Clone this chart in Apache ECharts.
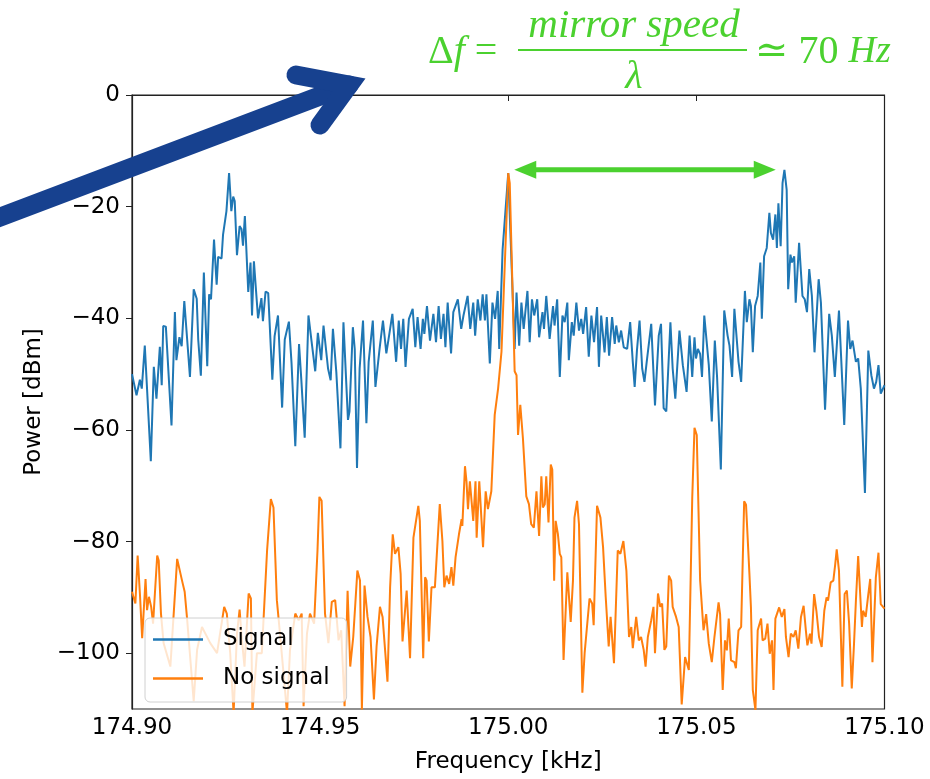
<!DOCTYPE html>
<html>
<head>
<meta charset="utf-8">
<script src="https://cdn.jsdelivr.net/npm/echarts@6/dist/echarts.min.js"></script>
<style>
html, body { margin: 0; padding: 0; background: #fff; }
#main { width: 930px; height: 779px; }
</style>
</head>
<body>
<div id="main"></div>
<script>
// frequency offsets are in Hz above F0 (kHz)
var F0 = 174.9;
var xTicks = [174.90, 174.95, 175.00, 175.05, 175.10];
var yTicks = [0, -20, -40, -60, -80, -100];

var sigHz = [0,1.2,2.1,2.6,3.4,5.0,5.8,6.5,7.4,7.9,8.3,9.0,10.5,11.4,11.8,12.6,13.2,13.9,15.4,16.4,17.2,17.6,18.3,19.1,20.0,20.5,21.0,21.8,22.5,22.9,23.8,24.2,25.1,25.8,26.4,26.9,27.3,27.9,28.6,29.1,29.5,30.0,30.9,31.5,31.9,32.4,33.5,34.4,34.8,35.5,36.2,37.3,37.9,38.8,39.9,40.6,41.7,42.4,43.4,44.4,45.0,45.9,46.9,47.7,48.7,49.4,
  50.3,50.9,52.1,52.8,53.4,54.3,55.4,56.2,57.4,57.8,58.7,59.2,59.8,60.5,61.4,62.3,62.9,64.0,64.7,65.8,66.7,67.6,68.4,69.2,70.2,70.9,71.5,72.1,72.7,73.6,74.6,75.3,75.9,76.7,77.3,77.7,78.4,79.2,80.1,80.8,81.5,82.1,82.8,83.3,83.9,84.8,85.4,86.6,87.5,88.1,89.2,89.9,90.7,91.2,91.9,92.6,93.2,93.8,94.2,95.1,95.8,96.5,97.2,97.6,98.5,100,
  101.7,102.2,102.9,103.5,104.1,105.1,105.7,106.3,106.9,107.7,108.2,109.1,109.5,110.1,111.0,111.9,112.3,113.0,113.7,114.4,115.0,115.7,116.1,116.9,117.4,118.1,118.8,119.4,119.9,120.7,121.4,122.1,122.8,123.6,124.1,124.7,125.6,126.2,126.8,127.6,128.3,128.7,129.4,130.0,130.7,131.6,132.4,133.1,133.6,134.2,134.9,135.6,136.2,136.8,138.0,139.0,140.0,140.6,141.3,142.0,143.1,143.7,144.4,
  145.5,146.4,147.4,148.2,148.9,149.5,149.9,150.4,151.0,151.5,152.1,152.6,153.3,154.1,154.9,155.5,156.5,157.4,158.3,158.8,159.5,160.1,160.5,161.2,161.9,162.9,163.4,164.1,164.5,165.0,165.6,166.3,167.0,167.4,168.0,168.7,169.4,169.8,170.4,171.0,171.4,171.8,172.4,172.9,173.4,174.0,174.4,175.0,175.4,176.0,176.4,177.3,178.2,178.8,179.4,180.0,180.7,181.4,182.5,183.1,184.2,185.3,186.0,186.8,187.9,189.3,190.3,190.9,191.5,192.4,193.0,193.7,194.8,195.7,196.5,197.2,197.8,198.4,199.0,200];
var sigDb = [-50,-53.8,-51,-52.6,-44.9,-65.6,-48.7,-54.4,-45.1,-52,-41.4,-41.5,-59.2,-38.9,-47.5,-43.4,-45,-36.9,-50.5,-34.8,-36.5,-43.8,-50.3,-31.8,-48.6,-35.7,-36.6,-25.9,-34,-29,-29.3,-25,-20.8,-14,-20.8,-18.2,-19,-28.7,-23.5,-24,-27,-21.7,-35.3,-30,-39.5,-29.8,-40,-36.4,-40.5,-35.2,-35.5,-51,-43.2,-39.5,-56,-43.8,-40.6,-48,-62.9,-44.6,-51,-61.4,-39.5,-44,-49.5,-42.6,
  -47.5,-41.3,-49,-51.1,-41.9,-49.6,-63.3,-40.7,-58.2,-56.7,-41.6,-45.5,-66.8,-49,-40.4,-58.8,-47.8,-40.4,-52.3,-45.5,-40.4,-46.3,-42.8,-39.2,-47.8,-40.4,-45.5,-40.1,-48.7,-40.1,-38.3,-45.2,-39.8,-45.5,-40.1,-42.8,-37.8,-44,-39.2,-44.3,-37.8,-43.7,-39.2,-45.2,-37.2,-46.3,-38.9,-36.6,-41.9,-39.5,-36,-41.9,-37.2,-43.1,-36.6,-40.4,-35.7,-40.4,-35.7,-48.1,-37.2,-40.1,-35.1,-45.5,-27.7,-14,
  -45.5,-35.4,-44.9,-37.2,-41.9,-35.1,-44.3,-36.6,-39.5,-36.6,-43.4,-38.9,-41.9,-36,-43.7,-37.8,-41.3,-36.6,-50.5,-39.5,-40.7,-37.2,-47.5,-40.7,-43.1,-37.2,-42.2,-40.1,-42.8,-38,-46.9,-39.5,-44.3,-38,-48.7,-39.5,-46.1,-39.8,-46.7,-39.8,-44.6,-41.3,-44.3,-42.2,-45.2,-45.5,-40.7,-47.8,-52.3,-45.8,-40.4,-49,-51.4,-47.8,-41,-55.6,-43.1,-41,-56.1,-56.7,-40.7,-49,-54.4,
  -42.2,-48.4,-53.2,-43.1,-50.5,-43.4,-47.2,-45.5,-46.4,-50.5,-39.5,-39.5,-48.4,-58.5,-44,-50.5,-67.1,-38.6,-43.1,-44.9,-50.5,-38.3,-38.3,-47.8,-51.4,-35.1,-40.7,-36.6,-37.8,-46.1,-37.8,-36,-30,-40.1,-28.9,-27.4,-21.1,-24.7,-25.9,-21.4,-27.4,-19.4,-27.1,-15.8,-13.4,-17,-34.8,-28.6,-30,-28.9,-37.2,-26.5,-36,-36.6,-38.9,-31.2,-36,-46.1,-33,-37.2,-56.4,-39.2,-43.1,-50.5,-38.6,-59.1,-40.4,-45.5,-44,-47.8,-47.2,-52.6,-71.3,-45.8,-50.2,-52.6,-51.4,-48.4,-53.5,-52];

var noHz = [0,0.9,1.5,2.1,2.7,3.6,4.0,4.5,5.1,5.6,6.7,7.1,7.7,8.4,10.2,12.0,12.4,13.3,14.0,14.6,16.4,17.3,18.6,20.8,22.6,24.5,25.2,26.1,27.0,27.9,28.6,29.2,29.9,31.0,31.6,32.0,33.2,34.5,35.9,36.9,37.6,38.5,39.4,41.2,42.0,43.4,44.3,45.1,45.6,46.5,47.3,48.4,49.3,49.8,
  50.4,51.3,52.2,53.1,54.0,54.9,55.6,56.5,57.3,58.0,58.8,59.9,60.6,61.1,61.8,62.6,63.4,64.3,65.0,65.9,66.6,67.9,68.6,69.3,69.9,70.8,71.4,71.9,73.0,73.9,74.8,76.1,76.5,77.4,77.9,78.3,78.9,79.6,80.5,81.8,82.5,83.0,83.6,84.3,84.9,85.4,86.0,86.9,87.6,87.8,88.5,88.9,89.3,89.8,90.7,91.3,91.6,92.3,93.3,94.0,94.6,95.5,96.4,97.3,98.2,99.1,
  100,100.4,101.3,101.7,102.2,102.6,103.2,103.9,104.8,105.5,106.1,106.8,107.5,108.2,108.8,109.2,109.7,110.1,110.7,111.3,111.7,112.2,112.6,113.2,113.7,114.1,114.7,115.7,116.6,117.2,117.6,118.3,118.8,119.7,120.3,120.7,121.6,122.3,122.7,123.6,124.5,125.2,125.9,126.7,127.2,128.1,129.1,129.8,130.6,131.4,132.1,132.7,133.1,134.0,134.7,135.3,136.0,136.5,137.1,138.0,138.6,139.0,139.8,140.4,140.9,141.5,142.0,142.7,143.3,143.7,144.6,145.3,
  146.1,147.0,148.0,148.9,149.5,150.1,151.0,151.9,152.6,153.3,154.1,154.8,155.9,156.3,157.0,157.6,158.1,158.6,159.2,160.1,160.5,161.2,161.9,162.7,163.2,164.1,164.5,165.0,165.7,166.3,167.2,167.6,168.3,168.9,169.5,170.1,170.5,171.0,171.4,172.0,172.7,173.4,173.8,174.5,175.1,175.8,176.4,177.1,177.8,178.5,179.1,179.5,180.2,180.6,181.3,181.9,182.6,183.3,184.0,184.6,185.0,185.7,186.4,186.9,187.3,187.9,188.8,189.4,190.0,190.6,191.3,191.9,192.4,193.0,193.5,194.0,194.3,195.0,195.6,196.2,196.8,197.7,198.4,199.0,200];
var noDb = [-89,-91.1,-82.5,-89.3,-97.3,-86.7,-92.3,-89.9,-91.7,-94.7,-82.5,-83.4,-92.9,-98.2,-102.4,-83.1,-82.8,-87,-89,-93.5,-108.6,-99.4,-95.3,-98.2,-100,-91.7,-92.9,-100,-110.7,-96.5,-92.2,-97.6,-102.4,-89.3,-90.2,-110.7,-100,-100,-81.6,-72.4,-73.9,-90.5,-97,-110.7,-99.4,-92.9,-94.1,-92.9,-109.5,-96.5,-92.9,-94.7,-81.6,-72,
  -72.7,-92.9,-98.2,-90.8,-90.5,-97.7,-95.9,-109.5,-88.8,-102.4,-97.1,-85.2,-87,-110.1,-87.9,-93.5,-97.1,-108.3,-98.8,-91.7,-93.5,-105.1,-88.2,-78.7,-82.2,-81,-85.8,-97.9,-88.8,-100.9,-79.3,-73.6,-76.3,-100.9,-86.4,-87,-97.9,-88.2,-88.2,-73.3,-79.9,-88.2,-86.1,-87.6,-84.6,-87.9,-82.8,-78.7,-76,-77.2,-66.5,-69.2,-74.2,-69.2,-76.3,-69.2,-79.3,-69.2,-81,-71,-74.2,-71,-57.3,-52.6,-46,-30,
  -14,-15.8,-39,-49.5,-50.2,-60.9,-55.5,-61.5,-71.9,-73.3,-76.9,-77.5,-71,-79,-68.3,-73.9,-73.3,-68.3,-76.6,-66.2,-67.1,-87,-76.3,-78.7,-82.2,-82.8,-101.2,-85.5,-94.4,-87,-75.7,-72.7,-76.9,-107.1,-100,-99.7,-90.2,-91.1,-95,-73.6,-75.7,-81,-89.9,-98.8,-93.5,-101.8,-81.6,-82.2,-79.9,-85.2,-97.1,-95.3,-99.1,-93.5,-97.7,-97.1,-99.4,-102.4,-97.1,-94.1,-91.7,-100,-89.3,-91.7,-91.1,-99.4,-98.8,-86.1,-87,-91.7,-93.5,-95.3,
  -109.2,-100.7,-103,-72.2,-59.6,-60.9,-87,-95.9,-93,-98.3,-101.6,-97.1,-90.9,-93,-106.6,-97.7,-99.5,-93.8,-101.3,-101.6,-102.7,-95.9,-95.3,-72.8,-73.4,-85.8,-91.8,-106.6,-110.2,-95.9,-93.8,-97.7,-97.4,-94.7,-100.1,-97.7,-106.6,-93.8,-93.5,-91.8,-93.5,-92.1,-97.1,-100.7,-96.5,-97.1,-95.9,-99.2,-93.5,-91.5,-95.9,-98.6,-96.5,-98.3,-89.4,-92.4,-97.1,-98.9,-92.4,-90,-90.6,-87.3,-87,-84.1,-81.4,-85.2,-106,-89.4,-88.8,-94.7,-106.3,-98.3,-90.6,-82.6,-82.9,-95.3,-92.4,-93.5,-90,-86.7,-101.6,-86.4,-82,-91.2,-92];

// green span between carrier and right sideband
var spanKHz = [175.0016, 175.0711];
var spanDb = -13.4;

var GREEN = '#4bd12f';
var NAVY = '#17418f';

function toPairs(hz, db) {
  var out = [];
  for (var i = 0; i < hz.length; i++) {
    out.push([+(F0 + hz[i] / 1000).toFixed(5), db[i]]);
  }
  return out;
}

var chart = echarts.init(document.getElementById('main'), null, { renderer: 'canvas' });

var axisFont = { fontFamily: 'DejaVu Sans', fontSize: 23, color: '#000' };

chart.setOption({
  animation: false,
  backgroundColor: '#fff',
  grid: { left: 132, right: 45.5, top: 95, bottom: 66, show: true, borderColor: '#222', borderWidth: 1.2, backgroundColor: 'transparent' },
  legend: {
    left: 145, top: 618, orient: 'vertical',
    icon: 'rect', itemWidth: 50, itemHeight: 2.5, itemGap: 16,
    padding: [10, 17, 12, 8],
    backgroundColor: 'rgba(255,255,255,0.8)',
    borderColor: '#d0d0d0', borderWidth: 1, borderRadius: 5,
    textStyle: { fontFamily: 'DejaVu Sans', fontSize: 23, color: '#000', padding: [0, 0, 0, 15] },
    data: ['Signal', 'No signal']
  },
  xAxis: {
    type: 'value', min: 174.9, max: 175.1,
    name: 'Frequency [kHz]', nameLocation: 'middle', nameGap: 42,
    nameTextStyle: axisFont,
    axisLine: { show: true, lineStyle: { color: '#222', width: 1.2 } },
    axisTick: { show: true, length: 6, inside: false, customValues: xTicks, lineStyle: { color: '#222' } },
    axisLabel: { margin: 8, customValues: xTicks, fontFamily: 'DejaVu Sans', fontSize: 23, color: '#000',
      formatter: function (v) { return v.toFixed(2); } },
    splitLine: { show: false }
  },
  yAxis: {
    type: 'value', min: -110, max: 0,
    name: 'Power [dBm]', nameLocation: 'middle', nameGap: 86, nameRotate: 90,
    nameTextStyle: axisFont,
    axisLine: { show: true, lineStyle: { color: '#222', width: 1.2 } },
    axisTick: { show: true, length: 6, customValues: yTicks, lineStyle: { color: '#222' } },
    axisLabel: { margin: 12, customValues: yTicks, fontFamily: 'DejaVu Sans', fontSize: 23, color: '#000',
      formatter: function (v) { return v < 0 ? '\u2212' + (-v) : '' + v; } },
    splitLine: { show: false }
  },
  series: [
    { name: 'Signal', type: 'line', data: toPairs(sigHz, sigDb), showSymbol: false,
      color: '#1f77b4', lineStyle: { width: 2, color: '#1f77b4' }, itemStyle: { color: '#1f77b4' } },
    { name: 'No signal', type: 'line', data: toPairs(noHz, noDb), showSymbol: false,
      color: '#ff7f0e', lineStyle: { width: 2, color: '#ff7f0e' }, itemStyle: { color: '#ff7f0e' } }
  ]
});

// annotations: formula, green span arrow, big navy pointer
var p1 = chart.convertToPixel({ gridIndex: 0 }, [spanKHz[0], spanDb]);
var p2 = chart.convertToPixel({ gridIndex: 0 }, [spanKHz[1], spanDb]);
var head = 22, half = 9;
var serif = '"Liberation Serif", "DejaVu Serif", serif';

chart.setOption({
  graphic: [
    { type: 'line', z: 100, shape: { x1: p1[0] + head - 2, y1: p1[1], x2: p2[0] - head + 2, y2: p2[1] },
      style: { stroke: GREEN, lineWidth: 5 } },
    { type: 'polygon', z: 100, shape: { points: [[p1[0], p1[1]], [p1[0] + head, p1[1] - half], [p1[0] + head, p1[1] + half]] },
      style: { fill: GREEN } },
    { type: 'polygon', z: 100, shape: { points: [[p2[0], p2[1]], [p2[0] - head, p2[1] - half], [p2[0] - head, p2[1] + half]] },
      style: { fill: GREEN } },

    { type: 'text', z: 100, x: 428, y: 52, style: {
        text: '{u|\u0394}{i|f}{u| = }', verticalAlign: 'middle', fill: GREEN,
        rich: { u: { font: '40px ' + serif, fill: GREEN }, i: { font: 'italic 40px ' + serif, fill: GREEN } } } },
    { type: 'text', z: 100, x: 634, y: 26, style: {
        text: 'mirror speed', align: 'center', verticalAlign: 'middle', fill: GREEN, font: 'italic 41px ' + serif } },
    { type: 'line', z: 100, shape: { x1: 518, y1: 50, x2: 747, y2: 50 }, style: { stroke: GREEN, lineWidth: 2 } },
    { type: 'text', z: 100, x: 634, y: 77, style: {
        text: '\u03bb', align: 'center', verticalAlign: 'middle', fill: GREEN, font: 'italic 40px ' + serif } },
    { type: 'text', z: 100, x: 755, y: 52, style: {
        text: '{u|\u2243 70 }{i|Hz}', verticalAlign: 'middle', fill: GREEN,
        rich: { u: { font: '40px ' + serif, fill: GREEN }, i: { font: 'italic 38px ' + serif, fill: GREEN } } } },

    { type: 'polyline', z: 110, shape: { points: [[-10, 221], [349, 85]] },
      style: { stroke: NAVY, lineWidth: 19, lineCap: 'round', fill: null } },
    { type: 'polyline', z: 110, shape: { points: [[296, 75], [349, 85], [320, 125]] },
      style: { stroke: NAVY, lineWidth: 19, lineCap: 'round', lineJoin: 'miter', fill: null } }
  ]
});
</script>
</body>
</html>
